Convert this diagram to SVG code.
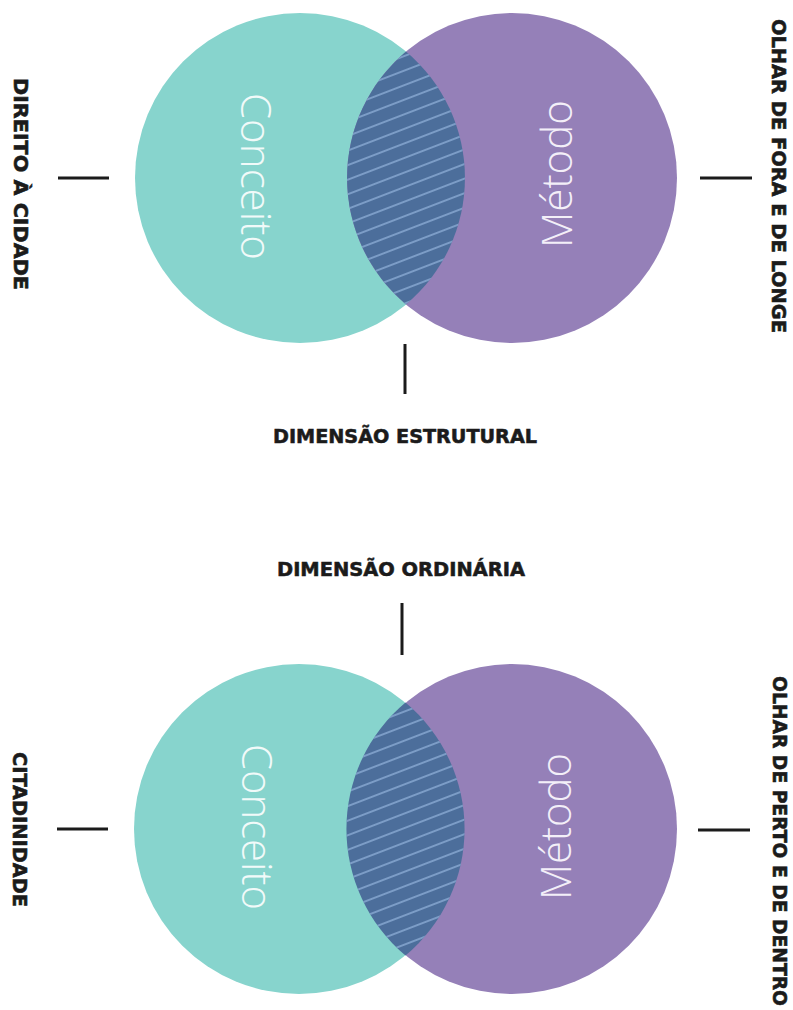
<svg xmlns="http://www.w3.org/2000/svg" width="793" height="1010" viewBox="0 0 793 1010">
<style>
.teal{fill:#87d4cd}
.purple{fill:#9580b8}
.lens{fill:#4c6e9b}
.word{font-family:"Open Sans","Noto Sans",sans-serif;font-weight:300}
.cw{fill:#f1faf9}
.mw{fill:#f3eff8}
.lab{font-family:"DejaVu Sans","Liberation Sans",sans-serif;font-weight:bold;fill:#1b1b1b;stroke:#1b1b1b;stroke-width:0.6}
.conn line{stroke:#1b1b1b;stroke-width:3;stroke-linecap:butt}
</style>
<defs>
<pattern id="hatch" patternUnits="userSpaceOnUse" width="20" height="13.6" patternTransform="rotate(-21)">
<line x1="0" y1="6.8" x2="20" y2="6.8" stroke="#8fb0d8" stroke-width="1.4"/>
</pattern>
</defs>
<rect width="793" height="1010" fill="#ffffff"/>

<g id="venn-top">
<g id="top-conceito">
<circle class="teal" cx="300" cy="178" r="165"/>
</g>
<g id="top-metodo">
<circle class="purple" cx="512" cy="178" r="165"/>
</g>
<g id="top-intersection">
<path class="lens" d="M406,51.6 A165,165 0 0,1 406,304.4 A165,165 0 0,1 406,51.6 Z"/>
<path fill="url(#hatch)" d="M406,51.6 A165,165 0 0,1 406,304.4 A165,165 0 0,1 406,51.6 Z"/>
</g>
<text class="word cw" font-size="43" transform="translate(256,176) rotate(90)" x="-83" y="15" textLength="167" lengthAdjust="spacingAndGlyphs">Conceito</text>
<text class="word mw" font-size="43" transform="translate(557,174) rotate(-90)" x="-74" y="15" textLength="148" lengthAdjust="spacingAndGlyphs">Método</text>
</g>

<g id="venn-bottom">
<g id="bottom-conceito">
<circle class="teal" cx="299" cy="829" r="165"/>
</g>
<g id="bottom-metodo">
<circle class="purple" cx="512" cy="829" r="165"/>
</g>
<g id="bottom-intersection">
<path class="lens" d="M405.5,702.5 A165,165 0 0,1 405.5,955.5 A165,165 0 0,1 405.5,702.5 Z"/>
<path fill="url(#hatch)" d="M405.5,702.5 A165,165 0 0,1 405.5,955.5 A165,165 0 0,1 405.5,702.5 Z"/>
</g>
<text class="word cw" font-size="43" transform="translate(257,827) rotate(90)" x="-83" y="15" textLength="166" lengthAdjust="spacingAndGlyphs">Conceito</text>
<text class="word mw" font-size="43" transform="translate(556,826) rotate(-90)" x="-74" y="15" textLength="147" lengthAdjust="spacingAndGlyphs">Método</text>
</g>

<g id="label-direito">
<text class="lab" font-size="19" transform="translate(20.5,184) rotate(90)" x="-106" y="7" textLength="212" lengthAdjust="spacingAndGlyphs">DIREITO À CIDADE</text>
</g>
<g id="label-olhar-fora">
<text class="lab" font-size="19" transform="translate(779,176) rotate(90)" x="-157" y="7" textLength="314" lengthAdjust="spacingAndGlyphs">OLHAR DE FORA E DE LONGE</text>
</g>
<g id="label-estrutural">
<text class="lab" font-size="20" x="273" y="443" textLength="264" lengthAdjust="spacingAndGlyphs">DIMENSÃO ESTRUTURAL</text>
</g>
<g id="label-ordinaria">
<text class="lab" font-size="20" x="277" y="576" textLength="248" lengthAdjust="spacingAndGlyphs">DIMENSÃO ORDINÁRIA</text>
</g>
<g id="label-citadinidade">
<text class="lab" font-size="19" transform="translate(20,829.5) rotate(90)" x="-77.5" y="7" textLength="155" lengthAdjust="spacingAndGlyphs">CITADINIDADE</text>
</g>
<g id="label-olhar-perto">
<text class="lab" font-size="19" transform="translate(780,841) rotate(90)" x="-165" y="7" textLength="330" lengthAdjust="spacingAndGlyphs">OLHAR DE PERTO E DE DENTRO</text>
</g>

<g id="connectors" class="conn">
<line x1="58" y1="178" x2="109" y2="178"/>
<line x1="700" y1="178" x2="752" y2="178"/>
<line x1="405" y1="344" x2="405" y2="394"/>
<line x1="402" y1="603" x2="402" y2="655"/>
<line x1="57" y1="829" x2="108" y2="829"/>
<line x1="698" y1="830" x2="750" y2="830"/>
</g>
</svg>
